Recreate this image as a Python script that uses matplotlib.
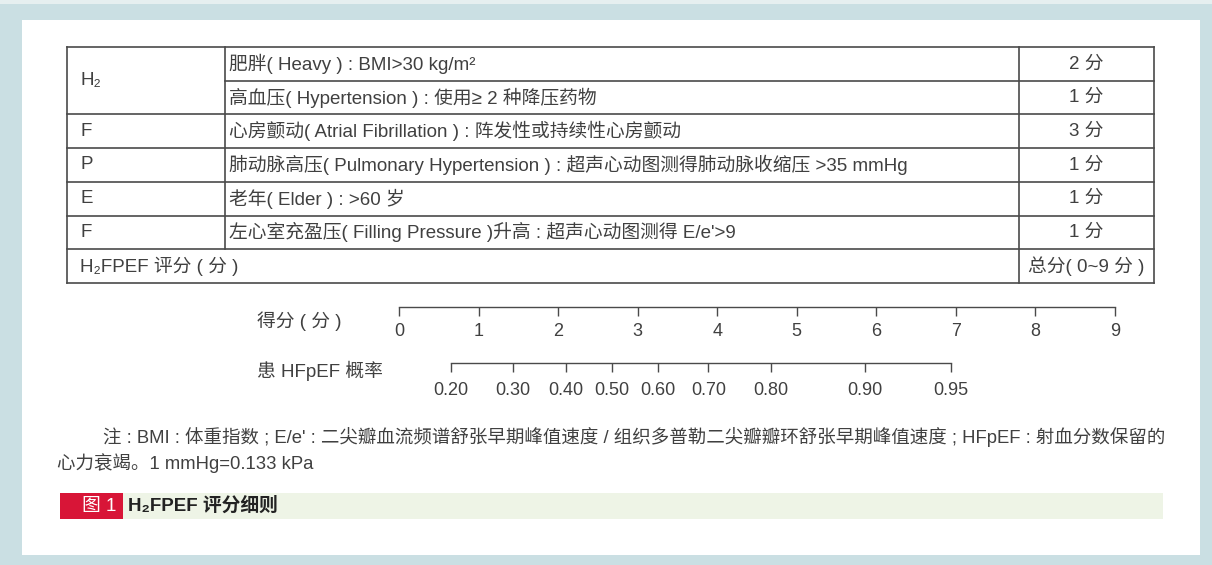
import matplotlib
matplotlib.use("Agg")
import matplotlib.pyplot as plt
from matplotlib.patches import Rectangle

plt.rcParams['font.family'] = ['Liberation Sans', 'Noto Sans CJK SC', 'DejaVu Sans']

# table content
row_letters = ["H\u2082", "", "F", "P", "E", "F"]
row_items = [
    "肥胖( Heavy ) : BMI>30 kg/m\u00b2",
    "高血压( Hypertension ) : 使用≥ 2 种降压药物",
    "心房颤动( Atrial Fibrillation ) : 阵发性或持续性心房颤动",
    "肺动脉高压( Pulmonary Hypertension ) : 超声心动图测得肺动脉收缩压 >35 mmHg",
    "老年( Elder ) : >60 岁",
    "左心室充盈压( Filling Pressure )升高 : 超声心动图测得 E/e'>9",
]
row_points = ["2 分", "1 分", "3 分", "1 分", "1 分", "1 分"]
total_label = "H\u2082FPEF 评分 ( 分 )"
total_points = "总分( 0~9 分 )"

# score scale and matching probability
score_ticks = [0, 1, 2, 3, 4, 5, 6, 7, 8, 9]
prob_labels = ["0.20", "0.30", "0.40", "0.50", "0.60", "0.70", "0.80", "0.90", "0.95"]
prob_pos = [0.65, 1.43, 2.10, 2.68, 3.25, 3.89, 4.67, 5.86, 6.94]

note1 = "注 : BMI : 体重指数 ; E/e' : 二尖瓣血流频谱舒张早期峰值速度 / 组织多普勒二尖瓣瓣环舒张早期峰值速度 ; HFpEF : 射血分数保留的"
note2 = "心力衰竭。1 mmHg=0.133 kPa"

W, H = 1212, 565
fig = plt.figure(figsize=(W / 100, H / 100), dpi=100)
fig.patch.set_facecolor("#cadfe3")

ax = fig.add_axes([0, 0, 1, 1])
ax.set_xlim(0, W)
ax.set_ylim(H, 0)
ax.axis("off")

txt = "#404040"
line_c = "#4a4a4a"
fs = 13.5

ax.add_patch(Rectangle((0, 0), W, 4, color="#e6eff0", lw=0))
ax.add_patch(Rectangle((22, 20), 1178, 535, color="white", lw=0))

# table grid
x0, x1, x2, x3 = 67, 225, 1019, 1154
y_top, rh = 47, 33.7
n = len(row_items) + 1
y_bot = y_top + n * rh
lw = 1.2
ax.plot([x0, x3], [y_top, y_top], color=line_c, lw=lw)
for i in range(1, n + 1):
    y = y_top + i * rh
    xs = x1 if i == 1 else x0
    ax.plot([xs, x3], [y, y], color=line_c, lw=lw)
for x in (x0, x3):
    ax.plot([x, x], [y_top, y_bot], color=line_c, lw=lw)
ax.plot([x1, x1], [y_top, y_bot - rh], color=line_c, lw=lw)
ax.plot([x2, x2], [y_top, y_bot], color=line_c, lw=lw)

for i, (let, item, pts) in enumerate(zip(row_letters, row_items, row_points)):
    yc = y_top + (i + 0.5) * rh
    if let:
        yl = y_top + rh if i == 0 else yc
        ax.text(x0 + 13, yl, let, fontsize=fs, color=txt, va="center")
    ax.text(x1 + 4, yc, item, fontsize=fs, color=txt, va="center")
    ax.text((x2 + x3) / 2, yc, pts, fontsize=fs, color=txt, va="center", ha="center")
yc = y_top + (n - 0.5) * rh
ax.text(x0 + 13, yc, total_label, fontsize=fs, color=txt, va="center")
ax.text((x2 + x3) / 2, yc, total_points, fontsize=fs, color=txt, va="center", ha="center")

# scales
ax.text(257, 321, "得分 ( 分 )", fontsize=fs, color=txt, va="center")
ax.text(257, 371, "患 HFpEF 概率", fontsize=fs, color=txt, va="center")


def scale_axis(y_px, ticks, labels, lo, hi, pad):
    a = fig.add_axes([399 / W, 1 - y_px / H, (1115 - 399) / W, 0.0001])
    a.set_xlim(0, 9)
    a.set_ylim(0, 1)
    a.set_facecolor("none")
    for s in ("top", "left", "right"):
        a.spines[s].set_visible(False)
    a.spines["bottom"].set_color(line_c)
    a.spines["bottom"].set_linewidth(1.0)
    a.spines["bottom"].set_bounds(lo, hi)
    a.set_yticks([])
    a.set_xticks(ticks)
    a.set_xticklabels(labels)
    a.tick_params(axis="x", direction="out", length=6.5, width=1.0,
                  color=line_c, labelcolor=txt, labelsize=13, pad=pad)
    return a


scale_axis(307, score_ticks, [str(t) for t in score_ticks], score_ticks[0], score_ticks[-1], 5)
scale_axis(363, prob_pos, prob_labels, prob_pos[0], prob_pos[-1], 7)

# note
ax.text(103, 437, note1, fontsize=13.3, color=txt, va="center")
ax.text(57, 463, note2, fontsize=13.3, color=txt, va="center")

# caption
ax.add_patch(Rectangle((123, 493), 1040, 26, color="#eef4e6", lw=0))
ax.add_patch(Rectangle((60, 493), 63, 26, color="#d81537", lw=0))
ax.text(99, 506, "图 1", fontsize=fs, color="white", va="center", ha="center")
ax.text(128, 506, "H\u2082FPEF 评分细则", fontsize=fs, color="#222222", va="center",
        fontweight="bold")

fig.savefig("out.png", dpi=100, facecolor=fig.get_facecolor())
